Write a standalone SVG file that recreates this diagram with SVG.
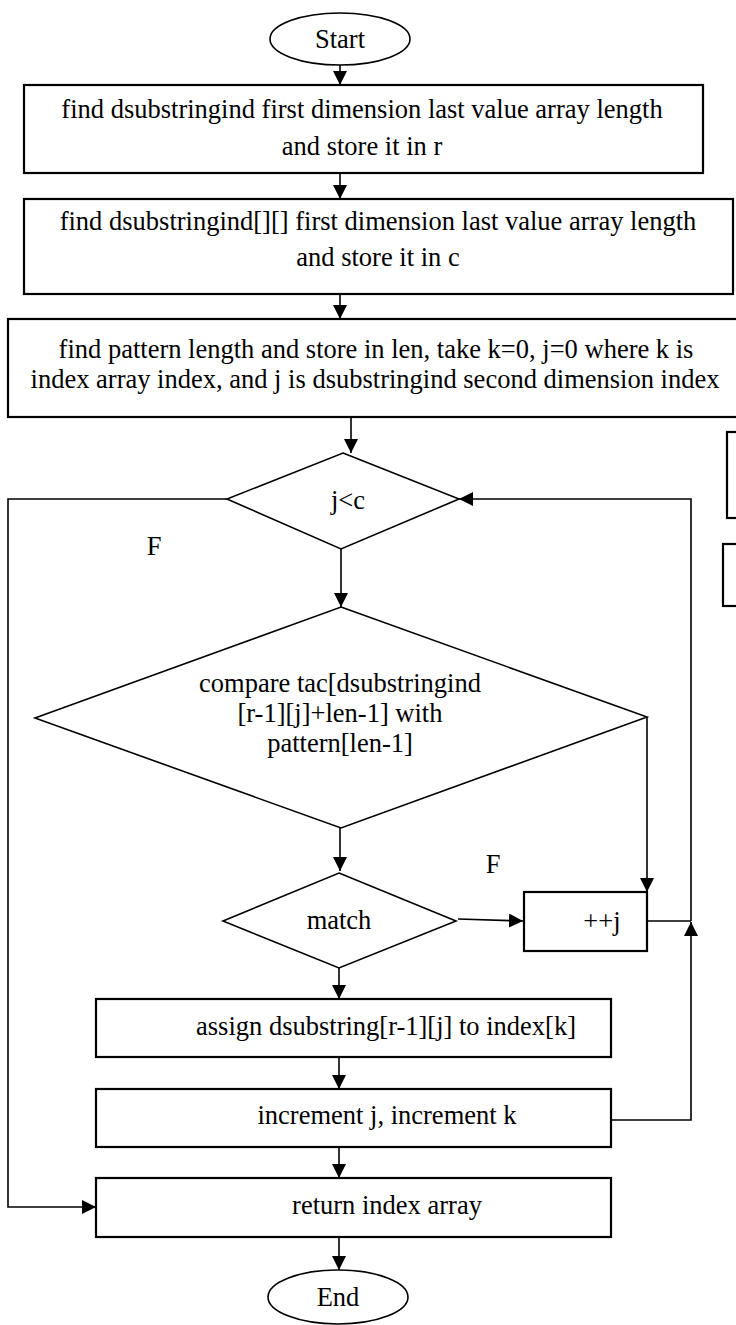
<svg xmlns="http://www.w3.org/2000/svg" width="736" height="1325" viewBox="0 0 736 1325">
<style>
text{font-family:"Liberation Serif","Times New Roman",serif;font-size:26.5px;fill:#000;text-anchor:middle}
.box{fill:#fff;stroke:#000;stroke-width:2.2}
.dia{fill:#fff;stroke:#000;stroke-width:1.6}
.term{fill:#fff;stroke:#000;stroke-width:1.6}
.con{fill:none;stroke:#000;stroke-width:1.6}
</style>
<defs>
<marker id="ah" markerWidth="14" markerHeight="14" refX="14" refY="7" orient="auto" markerUnits="userSpaceOnUse">
<path d="M0,0 L14,7 L0,14 z" fill="#000"/>
</marker>
</defs>
<rect width="736" height="1325" fill="#fff"/>
<g id="connectors">
<path class="con" d="M340,65 V85" marker-end="url(#ah)"/>
<path class="con" d="M340,173 V199" marker-end="url(#ah)"/>
<path class="con" d="M340,294 V319" marker-end="url(#ah)"/>
<path class="con" d="M351,417 V453" marker-end="url(#ah)"/>
<path class="con" d="M341,549 V607" marker-end="url(#ah)"/>
<path class="con" d="M340,820 V871" marker-end="url(#ah)"/>
<path class="con" d="M458,919 L523,921" marker-end="url(#ah)"/>
<path class="con" d="M647,717 V892" marker-end="url(#ah)"/>
<path class="con" d="M647,921 H691"/>
<path class="con" d="M611,1120 H691 V922" marker-end="url(#ah)"/>
<path class="con" d="M691,921 V499 H459" marker-end="url(#ah)"/>
<path class="con" d="M227,499 H8 V1207 H96" marker-end="url(#ah)"/>
<path class="con" d="M339,968 V999" marker-end="url(#ah)"/>
<path class="con" d="M339,1057 V1089" marker-end="url(#ah)"/>
<path class="con" d="M339,1147 V1178" marker-end="url(#ah)"/>
<path class="con" d="M339,1237 V1270" marker-end="url(#ah)"/>
</g>
<g id="start">
<ellipse class="term" cx="340" cy="39" rx="70" ry="26"/>
<text x="340" y="48">Start</text>
</g>
<g id="box1">
<rect class="box" x="24" y="85" width="679" height="88"/>
<text x="362" y="118">find dsubstringind first dimension last value array length</text>
<text x="362" y="155">and store it in r</text>
</g>
<g id="box2">
<rect class="box" x="24" y="199" width="709" height="95"/>
<text x="378" y="230">find dsubstringind[][] first dimension last value array length</text>
<text x="378" y="266">and store it in c</text>
</g>
<g id="box3">
<rect class="box" x="8" y="319" width="740" height="98"/>
<text x="376" y="358">find pattern length and store in len, take k=0, j=0 where k is</text>
<text x="375" y="388">index array index, and j is dsubstringind second dimension index</text>
</g>
<g id="cond-jc">
<polygon class="dia" points="343,453 459,499 341,549 227,499"/>
<text x="348" y="509">j&lt;c</text>
</g>
<g id="label-f1"><text x="154" y="555">F</text></g>
<g id="compare">
<polygon class="dia" points="341,607 647,717 341,828 35,718"/>
<text x="340" y="692">compare tac[dsubstringind</text>
<text x="340" y="722">[r-1][j]+len-1] with</text>
<text x="340" y="752">pattern[len-1]</text>
</g>
<g id="match">
<polygon class="dia" points="339,873 456,921 339,968 223,921"/>
<text x="339" y="929">match</text>
</g>
<g id="label-f2"><text x="493" y="873">F</text></g>
<g id="incj">
<rect class="box" x="524" y="892" width="123" height="59"/>
<text x="602" y="930">++j</text>
</g>
<g id="assign">
<rect class="box" x="96" y="999" width="515" height="58"/>
<text x="386" y="1035">assign dsubstring[r-1][j] to index[k]</text>
</g>
<g id="increment">
<rect class="box" x="96" y="1089" width="515" height="58"/>
<text x="387" y="1124">increment j, increment k</text>
</g>
<g id="return">
<rect class="box" x="96" y="1178" width="515" height="59"/>
<text x="387" y="1214">return index array</text>
</g>
<g id="end">
<ellipse class="term" cx="338" cy="1297" rx="70" ry="27"/>
<text x="338" y="1306">End</text>
</g>
<g id="edge-box-a"><rect class="box" x="727" y="432" width="30" height="86"/></g>
<g id="edge-box-b"><rect class="box" x="723" y="544" width="30" height="62"/></g>
</svg>
